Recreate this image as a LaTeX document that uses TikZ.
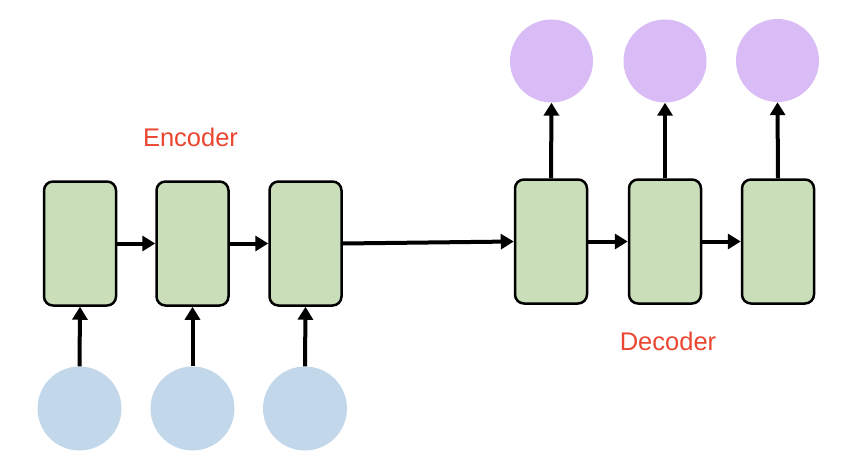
\documentclass[tikz,border=0pt]{standalone}
\usepackage{fontspec}
\setmainfont{Liberation Sans}
\usetikzlibrary{arrows.meta}
\definecolor{cellgreen}{HTML}{C9DEB9}
\definecolor{inblue}{HTML}{C3D7EB}
\definecolor{outpurple}{HTML}{D9BCF5}
\definecolor{labelred}{HTML}{EA4630}
\begin{document}
\begin{tikzpicture}[x=1pt,y=-1pt,
  cell/.style={draw=black, line width=2.5pt, fill=cellgreen, rounded corners=9pt,
    minimum width=72pt, minimum height=124pt, inner sep=0pt},
  token/.style={circle, fill=inblue, minimum size=84pt, inner sep=0pt},
  outtoken/.style={circle, fill=outpurple, minimum size=83pt, inner sep=0pt},
  flow/.style={line width=4pt, -{Triangle[length=13pt,width=15pt]}, shorten >=0pt},
  tag/.style={text=labelred, font=\fontsize{25.5pt}{30pt}\selectfont, inner sep=0pt}]
  \useasboundingbox (0,0) rectangle (854,468);

  % encoder cells and their inputs
  \node[cell] (e1) at (80,243.5) {};
  \node[cell] (e2) at (192.5,243.5) {};
  \node[cell] (e3) at (305.5,243.5) {};
  \node[token] (x1) at (79.5,408.5) {};
  \node[token] (x2) at (192.5,408.5) {};
  \node[token] (x3) at (305,408.5) {};

  % decoder cells and their outputs
  \node[cell] (d1) at (551,241.5) {};
  \node[cell] (d2) at (665,241.5) {};
  \node[cell] (d3) at (778,241.5) {};
  \node[outtoken] (y1) at (551.5,61) {};
  \node[outtoken] (y2) at (665,61) {};
  \node[outtoken] (y3) at (777.5,60.5) {};

  \node[tag] (enc) at (190.5,137) {Encoder};
  \node[tag] (dec) at (668,341) {Decoder};

  % inputs into the encoder
  \draw[flow] (x1.north) -- (e1.south);
  \draw[flow] (x2.north) -- (e2.south);
  \draw[flow] (x3.north) -- (e3.south);

  % recurrent links
  \draw[flow] (e1.east) -- (e2.west);
  \draw[flow] (e2.east) -- (e3.west);
  \draw[flow] (e3.east) -- (d1.west);
  \draw[flow] (d1.east) -- (d2.west);
  \draw[flow] (d2.east) -- (d3.west);

  % outputs from the decoder
  \draw[flow] (d1.north) -- (y1.south);
  \draw[flow] (d2.north) -- (y2.south);
  \draw[flow] (d3.north) -- (y3.south);
\end{tikzpicture}
\end{document}
